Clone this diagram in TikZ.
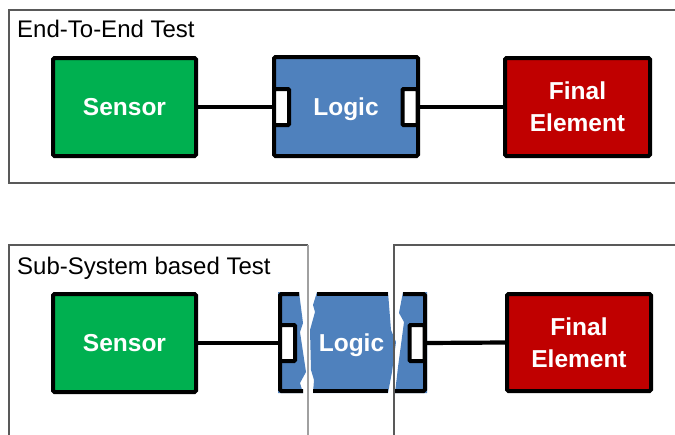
\documentclass[tikz,border=0pt]{standalone}
\usepackage{fontspec}
\setmainfont{Liberation Sans}
\definecolor{sgreen}{HTML}{00B050}
\definecolor{lblue}{HTML}{4F81BD}
\definecolor{fred}{HTML}{C00000}
\definecolor{framec}{HTML}{595959}
\definecolor{framel}{HTML}{A0A0A0}
\begin{document}
\begin{tikzpicture}[x=1pt,y=-1pt,
 lbl/.style={text=white,font=\fontsize{24.5}{32}\selectfont\bfseries,align=center},
 blk/.style={lbl,draw=black,line width=4pt,rounded corners=1.5pt,inner sep=0pt},
 port/.style={draw=black,fill=white,line width=4pt,rounded corners=1pt,inner sep=0pt,minimum width=15pt,minimum height=36pt},
 wire/.style={line width=4.2pt},
 edge4/.style={line width=4pt,rounded corners=1.5pt},
 fr/.style={draw=framec,line width=1.3pt},
 title/.style={anchor=base west,inner sep=0pt,font=\fontsize{24}{28}\selectfont}]
\useasboundingbox (0,0) rectangle (675,434);
% top row
\node[blk,fill=sgreen,minimum width=143pt,minimum height=98pt] (sensor1) at (124.5,107) {Sensor};
\node[blk,fill=lblue,text depth=0pt,minimum width=144pt,minimum height=99pt] (logic1) at (346,106.5) {Logic};
\node[port] (lp1) at (281.5,107) {};
\node[port] (rp1) at (410,107) {};
\node[blk,fill=fred,minimum width=145pt,minimum height=98pt] (final1) at (577.5,107) {Final\\Element};
\draw[wire] (sensor1.east) -- (lp1.west);
\draw[wire] (rp1.east) -- (final1.west);
% bottom row
\node[blk,fill=sgreen,minimum width=143pt,minimum height=98pt] (sensor2) at (124.5,343) {Sensor};
\fill[lblue] (278,292) -- (299,292) -- (303,323) -- (300,332) -- (306,372) -- (300,383) -- (303,393) -- (278,393) -- cycle;
\draw[edge4] (299,294) -- (280,294) -- (280,391) -- (303,391);
\fill[lblue] (317,292) -- (388,292) -- (391,330) -- (396,342) -- (392,372) -- (388,393) -- (313,393) -- (314,380) -- (311,370) -- (310,330) -- (315,312) -- (313,305) -- cycle;
\draw[line width=4pt] (317,294) -- (388,294);
\draw[line width=4pt] (313,391) -- (388,391);
\fill[lblue] (403,292) -- (427,292) -- (427,393) -- (395,393) -- (398,367) -- (404,322) -- (399,313) -- cycle;
\draw[edge4] (403,294) -- (425,294) -- (425,391) -- (395,391);
\node[lbl,inner sep=0pt,text depth=0pt] (logic2) at (351.5,343) {Logic};
\node[port] (lp2) at (287.5,343) {};
\node[port] (rp2) at (417,343) {};
\node[blk,fill=fred,minimum width=144pt,minimum height=97pt] (final2) at (579,342.5) {Final\\Element};
\draw[wire] (sensor2.east) -- (lp2.west);
\draw[wire] (rp2.east) -- (final2.west);
% frames
\draw[fr] (677,10) -- (9,10) -- (9,183) -- (677,183);
\draw[fr] (9,436) -- (9,245) -- (308,245);
\draw[draw=framel,line width=1.3pt] (308,245) -- (308,436);
\draw[fr] (394,436) -- (394,245) -- (677,245);
% titles
\node[title] (t1) at (17,37.5) {End-To-End Test};
\node[title] (t2) at (17,274) {Sub-System based Test};
\end{tikzpicture}
\end{document}
